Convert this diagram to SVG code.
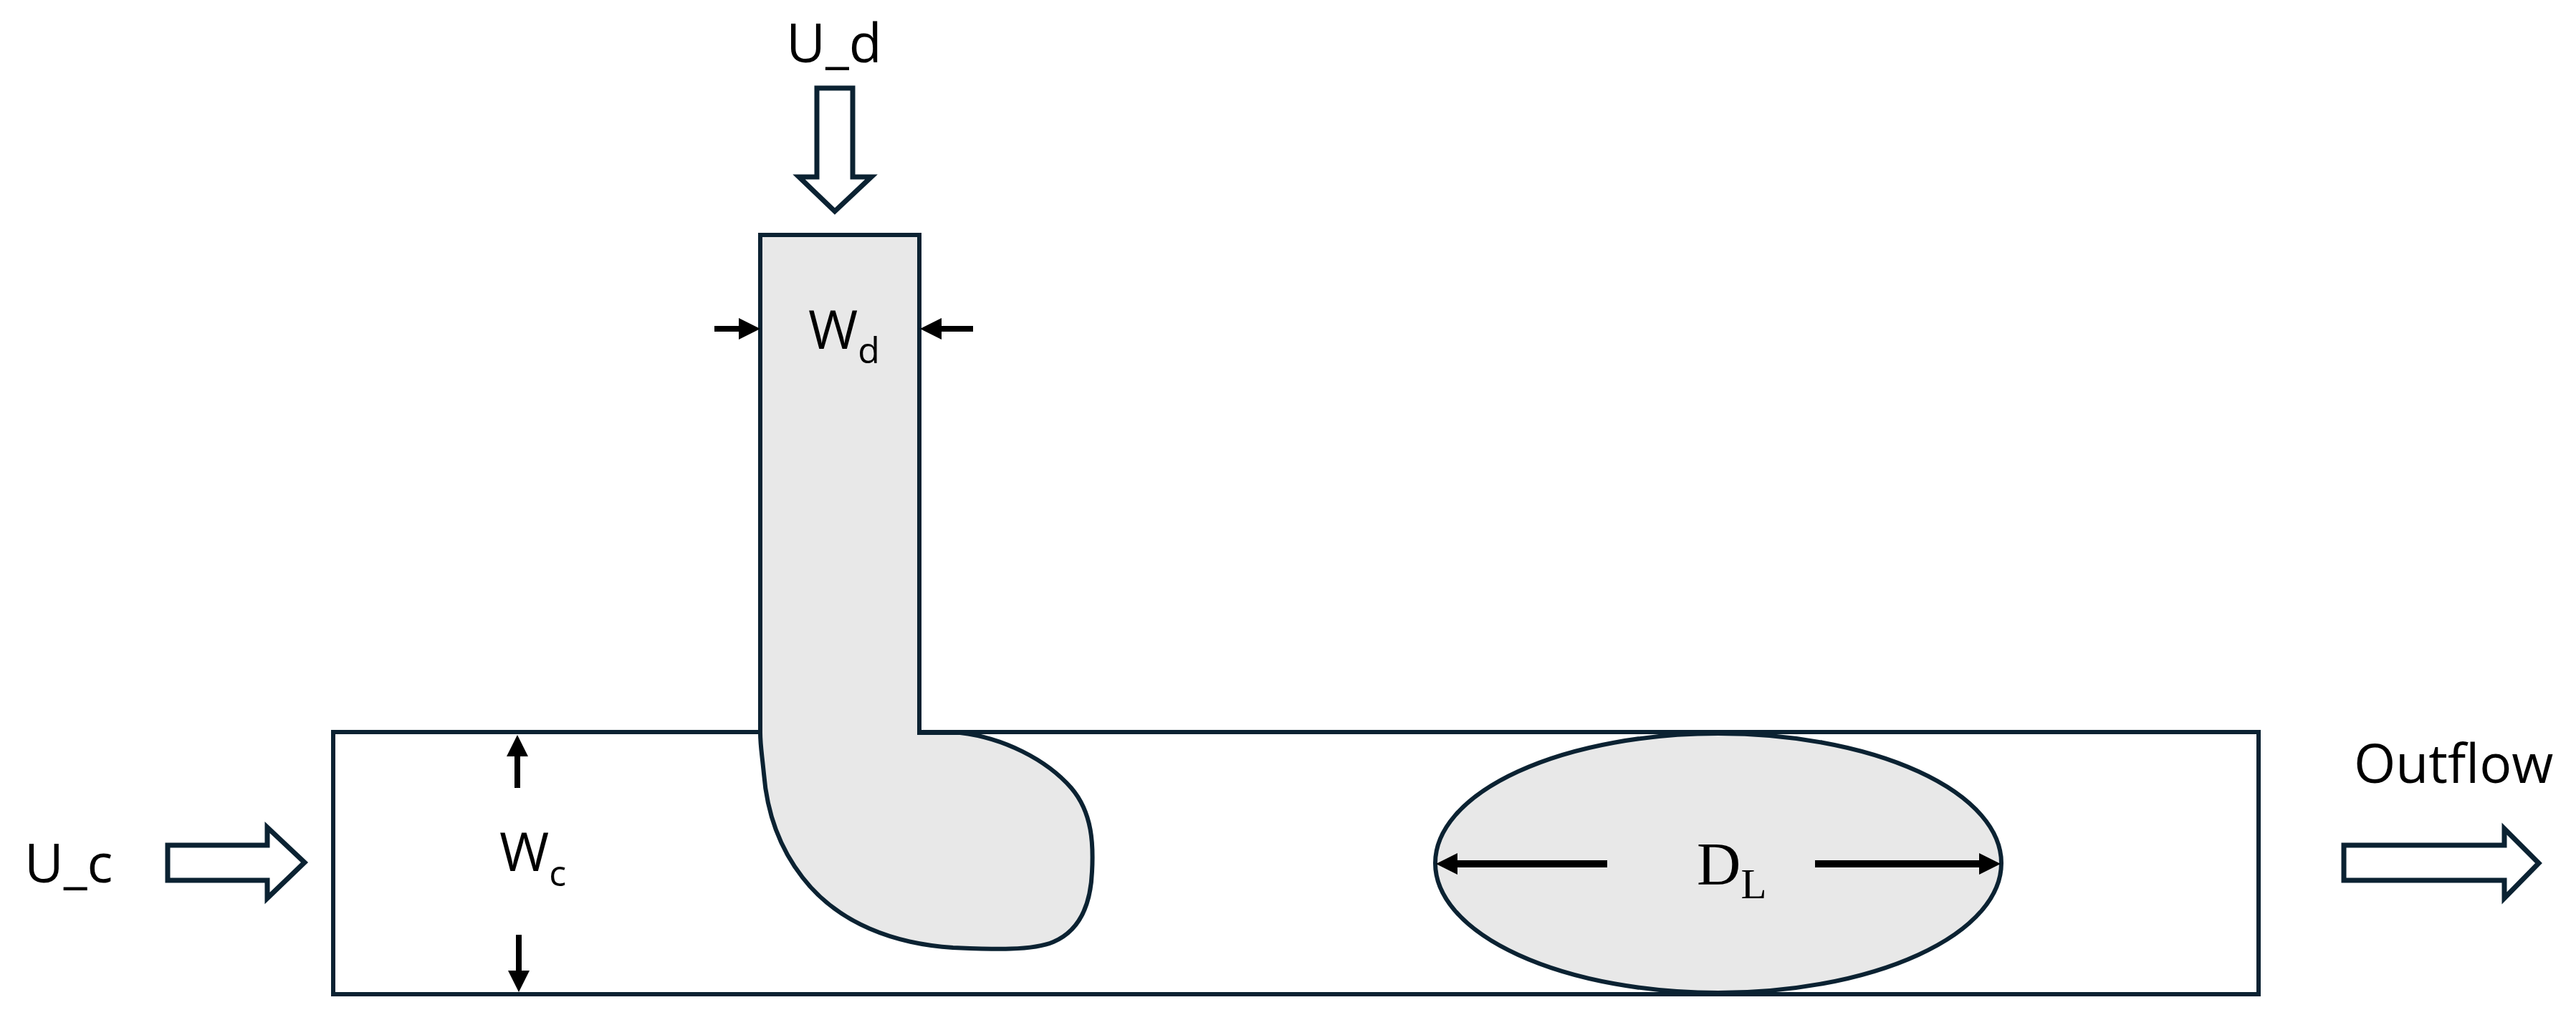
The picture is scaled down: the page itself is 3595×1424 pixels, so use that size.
<svg xmlns="http://www.w3.org/2000/svg" width="3595" height="1424" viewBox="0 0 3595 1424">
<style>
.wall{fill:none;stroke:#0b2232;stroke-width:6;stroke-linejoin:miter}
.fluid{fill:#e8e8e8;stroke:#0b2232;stroke-width:6;stroke-linejoin:miter}
.block{fill:#ffffff;stroke:#0b2232;stroke-width:7;stroke-linejoin:miter}
.dim{stroke:#000;stroke-width:8;fill:none}
.dimL{stroke:#000;stroke-width:10;fill:none}
.lbl{font-family:"Open Sans","Liberation Sans",sans-serif;font-size:75px;fill:#000}
.sub{font-size:50px}
.ser{font-family:"Liberation Serif","DejaVu Serif",serif;font-size:85px;fill:#000}
</style>
<defs>
<marker id="ah" markerUnits="userSpaceOnUse" markerWidth="30" markerHeight="30" viewBox="0 0 30 30" refX="10" refY="15" orient="auto">
<path d="M0,0 L30,15 L0,30 Z" fill="#000"/>
</marker>
</defs>
<rect width="3595" height="1424" fill="#ffffff"/>
<g id="main-channel">
<path class="wall" d="M1061,1022 H465 V1388 H3152 V1022 H1283"/>
</g>
<g id="side-channel-droplet">
<path class="fluid" d="M1061,328 H1283 V1023 H1340 C1400,1030 1460,1060 1495,1100 C1525,1135 1526,1180 1524,1217 C1522,1265 1505,1300 1470,1315 C1440,1328 1380,1325 1330,1323 C1250,1318 1170,1290 1120,1225 C1085,1180 1070,1130 1066,1080 C1063,1050 1061,1040 1061,1023 Z"/>
</g>
<g id="droplet">
<ellipse class="fluid" cx="2398" cy="1205" rx="395" ry="181" stroke-width="5"/>
</g>
<g id="inflow-d">
<path class="block" d="M1140,123 H1190 V247 H1216 L1165,295 L1115,247 H1140 Z"/>
<text class="lbl" x="1164" y="87" text-anchor="middle">U_d</text>
</g>
<g id="inflow-c">
<path class="block" d="M234,1180 H373 V1155 L425,1204 L373,1254 V1229 H234 Z"/>
<text class="lbl" x="34" y="1232">U_c</text>
</g>
<g id="outflow">
<path class="block" d="M3271,1180 H3495 V1157 L3543,1205 L3495,1254 V1229 H3271 Z"/>
<text class="lbl" x="3285" y="1093">Outflow</text>
</g>
<g id="connectors">
<line class="dim" x1="997" y1="459" x2="1041" y2="459" marker-end="url(#ah)"/>
<line class="dim" x1="1358" y1="459" x2="1304" y2="459" marker-end="url(#ah)"/>
<line class="dim" x1="722" y1="1100" x2="722" y2="1046" marker-end="url(#ah)"/>
<line class="dim" x1="724" y1="1305" x2="724" y2="1365" marker-end="url(#ah)"/>
<line class="dimL" x1="2243" y1="1206" x2="2024" y2="1206" marker-end="url(#ah)"/>
<line class="dimL" x1="2533" y1="1206" x2="2772" y2="1206" marker-end="url(#ah)"/>
</g>
<g id="labels">
<text class="lbl" x="1128" y="487">W<tspan class="sub" dy="20">d</tspan></text>
<text class="lbl" x="697" y="1216">W<tspan class="sub" dy="21">c</tspan></text>
<text class="ser" x="2368" y="1235">D<tspan font-size="59" dy="19">L</tspan></text>
</g>
</svg>
